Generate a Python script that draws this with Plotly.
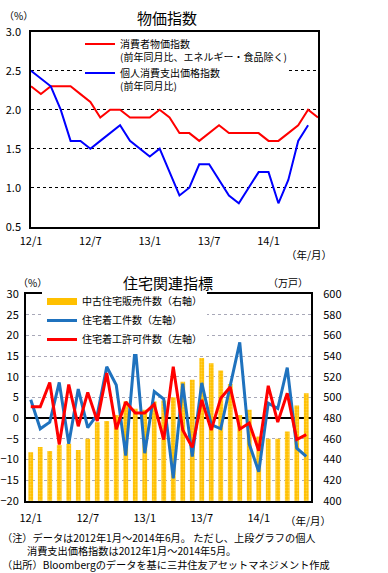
import plotly.graph_objects as go

W, H = 388, 573
FONT = "Noto Sans CJK JP, Noto Sans, sans-serif"

# ---------------- data ----------------
months = ["2012/1", "2012/2", "2012/3", "2012/4", "2012/5", "2012/6", "2012/7", "2012/8",
          "2012/9", "2012/10", "2012/11", "2012/12", "2013/1", "2013/2", "2013/3", "2013/4",
          "2013/5", "2013/6", "2013/7", "2013/8", "2013/9", "2013/10", "2013/11", "2013/12",
          "2014/1", "2014/2", "2014/3", "2014/4", "2014/5", "2014/6"]
tick_labels = ["12/1", "12/7", "13/1", "13/7", "14/1"]
tick_index = [0, 6, 12, 18, 24]

# 物価指数 (%)
cpi_core = [2.3, 2.2, 2.3, 2.3, 2.3, 2.2, 2.1, 1.9, 2.0, 2.0, 1.9, 1.9, 1.9, 2.0, 1.9,
            1.7, 1.7, 1.6, 1.7, 1.8, 1.7, 1.7, 1.7, 1.7, 1.6, 1.6, 1.7, 1.8, 2.0, 1.9]
pce = [2.5, 2.4, 2.3, 2.0, 1.6, 1.6, 1.5, 1.6, 1.7, 1.8, 1.6, 1.5, 1.4, 1.5, 1.2,
       0.9, 1.0, 1.3, 1.3, 1.1, 0.9, 0.8, 1.0, 1.2, 1.2, 0.8, 1.1, 1.6, 1.8]

# 住宅関連指標
existing_sales = [447, 452, 448, 454, 455, 449, 460, 476, 477, 483, 496, 489, 488, 496, 497,
                  500, 515, 517, 538, 533, 526, 513, 483, 488, 462, 460, 460, 467, 492, 504]
starts = [4.4, -2.6, -1.0, 8.6, -6.2, 7.0, -2.3, 0.8, 12.4, 8.0, -9.1, 17.3, -8.5, 6.4, 4.6,
          -14.6, 8.3, -9.3, 8.5, -1.6, -2.6, 7.8, 18.3, -6.3, -13.0, 3.6, 2.3, 12.2, -7.3, -9.3]
permits = [2.7, 2.7, 8.6, -6.4, 8.1, -2.0, 6.2, -0.7, 10.9, -2.7, 3.9, 1.2, 1.2, 3.3, -5.2,
           12.4, -2.9, -7.1, 4.4, -2.9, 4.8, 7.5, -2.7, -1.2, -7.9, 7.8, -1.0, 6.0, -5.2, -4.0]

idx = list(range(len(months)))

fig = go.Figure()

# ---------------- top chart ----------------
fig.add_trace(go.Scatter(
    x=idx[:len(cpi_core)], y=cpi_core, mode="lines",
    line=dict(color="#FF0000", width=2),
    name="消費者物価指数<br>(前年同月比、エネルギー・食品除く)",
    xaxis="x", yaxis="y", legend="legend"))
fig.add_trace(go.Scatter(
    x=idx[:len(pce)], y=pce, mode="lines",
    line=dict(color="#0000FF", width=2),
    name="個人消費支出価格指数<br>(前年同月比)",
    xaxis="x", yaxis="y", legend="legend"))

# ---------------- bottom chart ----------------
fig.add_trace(go.Bar(
    x=idx, y=existing_sales, name="中古住宅販売件数（右軸）",
    marker=dict(color="#FFC000", line_width=0,
                pattern=dict(shape=".", fgcolor="#FFE27A", size=3, solidity=0.35)),
    xaxis="x2", yaxis="y2", showlegend=False))
# legend swatch for the bars (wide rectangle as in the original)
fig.add_trace(go.Scatter(
    x=[None], y=[None], mode="lines", name="中古住宅販売件数（右軸）",
    line=dict(color="#FFC000", width=7),
    xaxis="x2", yaxis="y2", legend="legend2"))
fig.add_trace(go.Scatter(
    x=idx, y=starts, mode="lines", name="住宅着工件数（左軸）",
    line=dict(color="#1F72BE", width=3),
    xaxis="x2", yaxis="y3", legend="legend2"))
fig.add_trace(go.Scatter(
    x=idx, y=permits, mode="lines", name="住宅着工許可件数（左軸）",
    line=dict(color="#FF0000", width=3),
    xaxis="x2", yaxis="y3", legend="legend2"))

ax_common = dict(showline=True, linecolor="black", mirror=True, zeroline=False,
                 automargin=False,
                 tickfont=dict(family=FONT, size=11, color="black"))

fig.update_layout(
    width=W, height=H,
    margin=dict(l=0, r=0, t=0, b=0, pad=0, autoexpand=False),
    paper_bgcolor="white", plot_bgcolor="white",
    font=dict(family=FONT, size=11, color="black"),
    bargap=0.5,
    xaxis=dict(domain=[31 / W, 318 / W], anchor="y", range=[0, 29],
               tickvals=tick_index, ticktext=tick_labels, showgrid=False,
               ticks="outside", ticklen=3, tickcolor="rgba(0,0,0,0)",
               linewidth=1.5, **ax_common),
    yaxis=dict(domain=[1 - 226.7 / H, 1 - 31.7 / H], anchor="x", range=[0.5, 3.0],
               dtick=0.5, tickformat=".1f", showgrid=True, gridcolor="black",
               griddash="dot", gridwidth=1,
               ticks="outside", ticklen=6, tickcolor="rgba(0,0,0,0)",
               linewidth=1.5, **ax_common),
    xaxis2=dict(domain=[26 / W, 311 / W], anchor="y2", range=[-0.5, 29.5],
                tickvals=tick_index, ticktext=tick_labels, showgrid=False,
                ticks="outside", ticklen=6, tickcolor="rgba(0,0,0,0)",
                linewidth=2, **ax_common),
    yaxis2=dict(domain=[1 - 500.7 / H, 1 - 294 / H], anchor="x2", side="right",
                range=[400, 600], dtick=20, showgrid=True, gridcolor="#A8A8B8",
                griddash="dot", gridwidth=1,
                ticks="outside", ticklen=8, tickcolor="rgba(0,0,0,0)",
                linewidth=2, **ax_common),
    yaxis3=dict(overlaying="y2", anchor="x2", side="left", range=[-20, 30], dtick=5,
                showgrid=False, showline=True, linecolor="black", linewidth=2,
                zeroline=True, zerolinecolor="black", zerolinewidth=1.5,
                automargin=False,
                ticks="outside", ticklen=3, tickcolor="rgba(0,0,0,0)",
                tickfont=dict(family=FONT, size=11, color="black")),
    legend=dict(x=80 / W, y=1 - 31 / H, xanchor="left", yanchor="top",
                bgcolor="rgba(0,0,0,0)", borderwidth=0, itemwidth=30, valign="top",
                tracegroupgap=0, font=dict(family=FONT, size=10, color="black")),
    legend2=dict(x=42 / W, y=1 - 287 / H, xanchor="left", yanchor="top",
                 bgcolor="white", borderwidth=0, itemwidth=30,
                 tracegroupgap=0, font=dict(family=FONT, size=10, color="black")),
)

# white backing behind the top legend (drawn under the legend, hides the grid line)
fig.add_shape(type="rect", xref="paper", yref="paper",
              x0=84 / W, x1=288 / W, y0=1 - 91 / H, y1=1 - 37 / H,
              fillcolor="white", line_width=0, layer="above")

ann = [
    dict(text="物価指数", x=167 / W, y=1 - 17 / H, size=15),
    dict(text="（%）", x=18 / W, y=1 - 16 / H, size=10),
    dict(text="（年/月）", x=309 / W, y=1 - 255 / H, size=10.5),
    dict(text="住宅関連指標", x=168 / W, y=1 - 282 / H, size=15),
    dict(text="（%）", x=32 / W, y=1 - 283 / H, size=10),
    dict(text="（万戸）", x=288 / W, y=1 - 283 / H, size=10),
    dict(text="（年/月）", x=308 / W, y=1 - 520 / H, size=10.5),
]
for a in ann:
    fig.add_annotation(text=a["text"], x=a["x"], y=a["y"], xref="paper", yref="paper",
                       xanchor="center", yanchor="middle", showarrow=False,
                       font=dict(family=FONT, size=a["size"], color="black"))

notes = ("（注）データは2012年1月～2014年6月。 ただし、上段グラフの個人<br>"
         "　　\u00a0\u00a0消費支出価格指数は2012年1月～2014年5月。<br>"
         "（出所）Bloombergのデータを基に三井住友アセットマネジメント作成")
fig.add_annotation(text=notes, x=1 / W, y=1 - 528.5 / H, xref="paper", yref="paper",
                   xanchor="left", yanchor="top", align="left", showarrow=False,
                   borderpad=0,
                   font=dict(family=FONT, size=10.2, color="black"))

fig.write_html("out.html", config={"displayModeBar": False},
               post_script="document.body.style.margin='0px';")
